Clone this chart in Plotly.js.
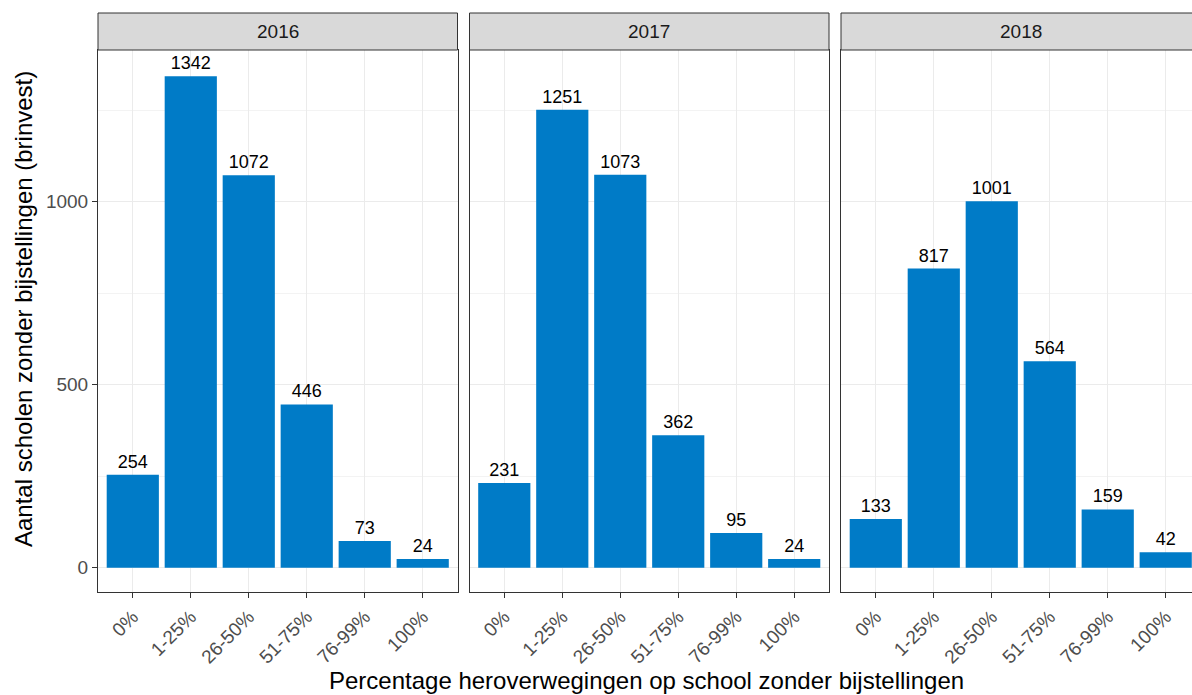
<!DOCTYPE html>
<html>
<head>
<meta charset="utf-8">
<script src="https://cdn.plot.ly/plotly-3.0.1.min.js"></script>
<style>
html, body { margin: 0; padding: 0; overflow: hidden; background: #fff; }
#chart { width: 1210px; height: 695px; }
</style>
</head>
<body>
<div id="chart"></div>
<script>
// ---- data ----
var categories = ['0%', '1-25%', '26-50%', '51-75%', '76-99%', '100%'];
var years = ['2016', '2017', '2018'];
var counts2016 = [254, 1342, 1072, 446, 73, 24];
var counts2017 = [231, 1251, 1073, 362, 95, 24];
var counts2018 = [133, 817, 1001, 564, 159, 42];
var yTitle = 'Aantal scholen zonder bijstellingen (brinvest)';
var xTitle = 'Percentage heroverwegingen op school zonder bijstellingen';

// ---- layout geometry (pixels) ----
var W = 1210, H = 695;
var panelsPx = [[98, 457.5], [469.5, 829], [841, 1200.5]];
var plotTop = 50, plotBottom = 592.3, stripTop = 13;
var barColor = '#007BC7';
var font = 'Arial, "Liberation Sans", sans-serif';

var series = [counts2016, counts2017, counts2018];
var traces = [];
var layout = {
  width: W, height: H,
  margin: {l: 0, r: 0, t: 0, b: 0},
  paper_bgcolor: '#ffffff', plot_bgcolor: '#ffffff',
  showlegend: false,
  font: {family: font, color: '#000'},
  shapes: [], annotations: [],
  bargap: 0.1
};

for (var i = 0; i < 3; i++) {
  var sfx = i === 0 ? '' : String(i + 1);
  traces.push({
    type: 'bar',
    x: categories,
    y: series[i],
    xaxis: 'x' + sfx,
    yaxis: 'y' + sfx,
    marker: {color: barColor, line: {width: 0}},
    width: 0.9,
    text: series[i].map(String),
    textposition: 'outside',
    cliponaxis: false,
    constraintext: 'none',
    textfont: {family: font, size: 18, color: '#000'},
    hoverinfo: 'none'
  });
  var dom = [panelsPx[i][0] / W, panelsPx[i][1] / W];
  layout['xaxis' + sfx] = {
    domain: dom,
    anchor: 'y' + sfx,
    type: 'category',
    categoryorder: 'array',
    categoryarray: categories,
    range: [-0.6, 5.6],
    showgrid: true, gridcolor: '#EBEBEB', gridwidth: 1,
    showline: true, linecolor: '#333333', linewidth: 1, mirror: true,
    ticks: 'outside', ticklen: 5, tickwidth: 1, tickcolor: '#333333',
    tickangle: -45,
    tickfont: {family: font, size: 19, color: '#4D4D4D'},
    zeroline: false, fixedrange: true
  };
  layout['yaxis' + sfx] = {
    domain: [1 - plotBottom / H, 1 - plotTop / H],
    anchor: 'x' + sfx,
    range: [-67.2, 1414],
    tickvals: [0, 500, 1000],
    showgrid: true, gridcolor: '#EBEBEB', gridwidth: 1,
    minor: {tickvals: [250, 750, 1250], showgrid: true, gridcolor: '#EBEBEB', gridwidth: 0.6, ticks: ''},
    showline: true, linecolor: '#333333', linewidth: 1, mirror: true,
    ticks: i === 0 ? 'outside' : '', ticklen: 5, tickwidth: 1, tickcolor: '#333333',
    showticklabels: i === 0,
    tickfont: {family: font, size: 19, color: '#4D4D4D'},
    zeroline: false, fixedrange: true
  };
  // strip
  layout.shapes.push({
    type: 'rect', xref: 'paper', yref: 'paper',
    x0: dom[0], x1: dom[1],
    y0: 1 - plotTop / H, y1: 1 - stripTop / H,
    fillcolor: '#D9D9D9', line: {color: '#333333', width: 1}, layer: 'above'
  });
  layout.annotations.push({
    xref: 'paper', yref: 'paper',
    x: (dom[0] + dom[1]) / 2, y: 1 - (plotTop + stripTop) / 2 / H,
    xanchor: 'center', yanchor: 'middle',
    text: years[i], showarrow: false,
    font: {family: font, size: 19, color: '#1A1A1A'}
  });
}

// axis titles
layout.annotations.push({
  xref: 'paper', yref: 'paper',
  x: 23 / W, y: 1 - 309 / H,
  xanchor: 'center', yanchor: 'middle', textangle: -90,
  text: yTitle, showarrow: false,
  font: {family: font, size: 24, color: '#000'}
});
layout.annotations.push({
  xref: 'paper', yref: 'paper',
  x: 647 / W, y: 1 - 680 / H,
  xanchor: 'center', yanchor: 'middle',
  text: xTitle, showarrow: false,
  font: {family: font, size: 24, color: '#000'}
});

Plotly.newPlot('chart', traces, layout, {displayModeBar: false, staticPlot: true});
</script>
</body>
</html>
